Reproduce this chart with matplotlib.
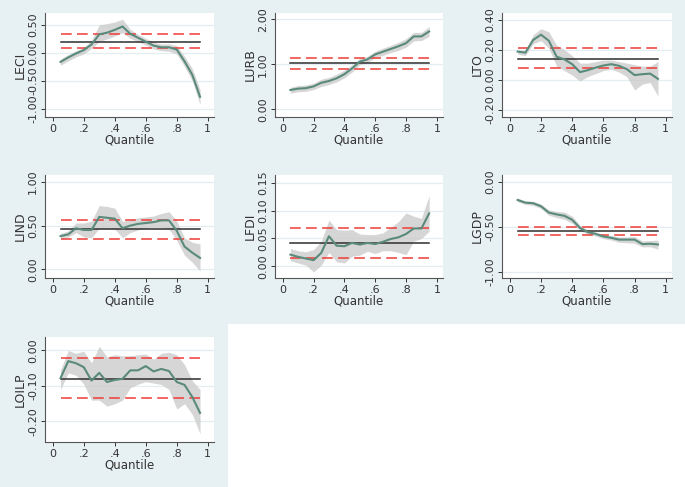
import numpy as np
import matplotlib.pyplot as plt
from matplotlib.patches import Rectangle

q = np.round(np.arange(0.05, 0.951, 0.05), 2)

# LECI
leci = [-0.16, -0.08, -0.01, 0.05, 0.15, 0.33, 0.36, 0.41, 0.47, 0.34, 0.27, 0.20, 0.13, 0.10, 0.10, 0.06, -0.15, -0.39, -0.78]
leci_hi = [-0.11, -0.03, 0.04, 0.10, 0.22, 0.50, 0.52, 0.55, 0.60, 0.42, 0.33, 0.26, 0.19, 0.16, 0.16, 0.13, -0.06, -0.28, -0.65]
leci_lo = [-0.22, -0.14, -0.07, -0.02, 0.08, 0.20, 0.25, 0.30, 0.36, 0.26, 0.20, 0.14, 0.07, 0.04, 0.03, -0.02, -0.24, -0.50, -0.92]
leci_ols = [0.20, 0.34, 0.08]

# LURB
lurb = [0.43, 0.46, 0.47, 0.51, 0.59, 0.63, 0.69, 0.78, 0.91, 1.06, 1.11, 1.22, 1.28, 1.34, 1.40, 1.47, 1.62, 1.62, 1.73]
lurb_hi = [0.49, 0.53, 0.54, 0.58, 0.67, 0.71, 0.78, 0.87, 0.99, 1.13, 1.18, 1.29, 1.36, 1.42, 1.49, 1.57, 1.71, 1.71, 1.84]
lurb_lo = [0.36, 0.39, 0.40, 0.44, 0.51, 0.55, 0.61, 0.70, 0.83, 0.99, 1.04, 1.15, 1.20, 1.26, 1.31, 1.38, 1.52, 1.53, 1.62]
lurb_ols = [1.02, 1.15, 0.89]

# LTO
lto = [0.187, 0.18, 0.265, 0.30, 0.26, 0.153, 0.135, 0.103, 0.05, 0.063, 0.08, 0.094, 0.103, 0.092, 0.07, 0.03, 0.036, 0.04, 0.005]
lto_hi = [0.20, 0.195, 0.30, 0.34, 0.32, 0.23, 0.20, 0.16, 0.11, 0.11, 0.12, 0.13, 0.13, 0.12, 0.11, 0.10, 0.09, 0.09, 0.12]
lto_lo = [0.17, 0.16, 0.24, 0.26, 0.21, 0.09, 0.06, 0.03, -0.01, 0.02, 0.04, 0.06, 0.07, 0.05, 0.02, -0.07, -0.03, -0.02, -0.11]
lto_ols = [0.14, 0.21, 0.08]

# LIND
lind = [0.38, 0.40, 0.47, 0.45, 0.45, 0.60, 0.59, 0.58, 0.47, 0.50, 0.52, 0.53, 0.54, 0.56, 0.56, 0.44, 0.26, 0.19, 0.13]
lind_hi = [0.41, 0.44, 0.53, 0.53, 0.55, 0.73, 0.72, 0.70, 0.55, 0.57, 0.59, 0.60, 0.61, 0.64, 0.66, 0.55, 0.36, 0.31, 0.29]
lind_lo = [0.35, 0.37, 0.42, 0.37, 0.36, 0.47, 0.47, 0.46, 0.36, 0.42, 0.45, 0.47, 0.48, 0.48, 0.46, 0.33, 0.16, 0.08, -0.02]
lind_ols = [0.46, 0.56, 0.35]

# LFDI
lfdi = [0.021, 0.017, 0.014, 0.011, 0.024, 0.054, 0.037, 0.036, 0.042, 0.039, 0.042, 0.040, 0.044, 0.049, 0.052, 0.058, 0.068, 0.068, 0.095]
lfdi_hi = [0.032, 0.028, 0.026, 0.030, 0.045, 0.083, 0.066, 0.065, 0.066, 0.058, 0.057, 0.057, 0.060, 0.070, 0.080, 0.096, 0.090, 0.086, 0.127]
lfdi_lo = [0.010, 0.006, 0.002, -0.010, 0.002, 0.025, 0.008, 0.006, 0.018, 0.020, 0.027, 0.023, 0.028, 0.028, 0.025, 0.021, 0.045, 0.050, 0.063]
lfdi_ols = [0.041, 0.068, 0.015]

# LGDP
lgdp = [-0.20, -0.23, -0.236, -0.27, -0.34, -0.36, -0.376, -0.42, -0.51, -0.557, -0.576, -0.605, -0.62, -0.64, -0.64, -0.64, -0.69, -0.686, -0.694]
lgdp_hi = [-0.18, -0.21, -0.215, -0.245, -0.31, -0.325, -0.335, -0.38, -0.48, -0.535, -0.555, -0.585, -0.595, -0.61, -0.61, -0.605, -0.655, -0.65, -0.645]
lgdp_lo = [-0.22, -0.25, -0.26, -0.295, -0.37, -0.395, -0.415, -0.46, -0.54, -0.58, -0.60, -0.63, -0.645, -0.67, -0.675, -0.68, -0.72, -0.72, -0.745]
lgdp_ols = [-0.54, -0.50, -0.587]

# LOILP
loilp = [-0.078, -0.030, -0.036, -0.047, -0.085, -0.063, -0.089, -0.083, -0.080, -0.056, -0.056, -0.044, -0.059, -0.052, -0.058, -0.089, -0.097, -0.131, -0.176]
loilp_hi = [-0.055, 0.000, -0.008, -0.002, -0.035, 0.012, -0.018, -0.012, -0.015, -0.015, -0.012, -0.010, -0.025, -0.008, -0.005, -0.012, -0.040, -0.085, -0.110]
loilp_lo = [-0.110, -0.063, -0.070, -0.095, -0.140, -0.140, -0.157, -0.150, -0.140, -0.105, -0.095, -0.088, -0.092, -0.096, -0.110, -0.165, -0.150, -0.180, -0.235]
loilp_ols = [-0.079, -0.0225, -0.133]

panels = [
    ("LECI", leci, leci_hi, leci_lo, leci_ols, [-1.0, -0.5, 0.0, 0.5], (-1.14, 0.71)),
    ("LURB", lurb, lurb_hi, lurb_lo, lurb_ols, [0.0, 1.0, 2.0], (-0.17, 2.14)),
    ("LTO", lto, lto_hi, lto_lo, lto_ols, [-0.2, 0.0, 0.2, 0.4], (-0.25, 0.445)),
    ("LIND", lind, lind_hi, lind_lo, lind_ols, [0.0, 0.5, 1.0], (-0.10, 1.08)),
    ("LFDI", lfdi, lfdi_hi, lfdi_lo, lfdi_ols, [0.0, 0.05, 0.10, 0.15], (-0.021, 0.164)),
    ("LGDP", lgdp, lgdp_hi, lgdp_lo, lgdp_ols, [-1.0, -0.5, 0.0], (-1.066, 0.077)),
    ("LOILP", loilp, loilp_hi, loilp_lo, loilp_ols, [-0.2, -0.1, 0.0], (-0.258, 0.038)),
]

W, H = 685, 487
bg = "#e7f0f3"
fig = plt.figure(figsize=(W / 100, H / 100), dpi=100, facecolor="white")
# blue graph region (top two rows + first cell of last row)
fig.patches.append(Rectangle((0, 1 - 324 / H), 1, 324 / H, transform=fig.transFigure,
                             facecolor=bg, edgecolor="none", zorder=-10))
fig.patches.append(Rectangle((0, 0), 228 / W, 1 - 322 / H, transform=fig.transFigure,
                             facecolor=bg, edgecolor="none", zorder=-10))

lefts = [45, 275, 502]
rights = [214, 443, 672]
tops = [13, 175, 337]
bottoms = [117, 278, 442]

for i, (name, y, hi, lo, ols, yt, ylim) in enumerate(panels):
    r, c = divmod(i, 3)
    x0, x1 = lefts[c], rights[c]
    t, b = tops[r], bottoms[r]
    ax = fig.add_axes([x0 / W, 1 - b / H, (x1 - x0) / W, (b - t) / H])
    ax.set_facecolor("white")
    for v in yt:
        ax.axhline(v, color="#e4eef1", lw=0.9, zorder=0)
    ax.fill_between(q, lo, hi, color="#cccccc", alpha=0.8, lw=0, zorder=1)
    ax.plot(q, y, color="#5a8a7c", lw=1.5, zorder=3)
    ax.plot([q[0], q[-1]], [ols[0]] * 2, color="#2e2e2e", lw=1.1, zorder=2)
    for v in ols[1:]:
        ax.plot([q[0], q[-1]], [v] * 2, color="#ee3b36", lw=1.1,
                linestyle=(0, (7, 3.5)), zorder=2)
    ax.set_xlim(-0.05, 1.04)
    ax.set_ylim(*ylim)
    ax.set_xticks([0, 0.2, 0.4, 0.6, 0.8, 1.0])
    ax.set_xticklabels(["0", ".2", ".4", ".6", ".8", "1"])
    ax.set_yticks(yt)
    ax.set_yticklabels(["%.2f" % v for v in yt], rotation=90, va="center")
    ax.tick_params(labelsize=8, colors="#333333", length=3, width=0.7, pad=2)
    for s in ["top", "right"]:
        ax.spines[s].set_visible(False)
    for s in ["left", "bottom"]:
        ax.spines[s].set_color("#555555")
        ax.spines[s].set_linewidth(0.8)
    ax.set_xlabel("Quantile", fontsize=8.5, color="#333333", labelpad=0)
    ax.set_ylabel(name, fontsize=9, color="#333333", labelpad=1)

fig.savefig("out.png", dpi=100)
